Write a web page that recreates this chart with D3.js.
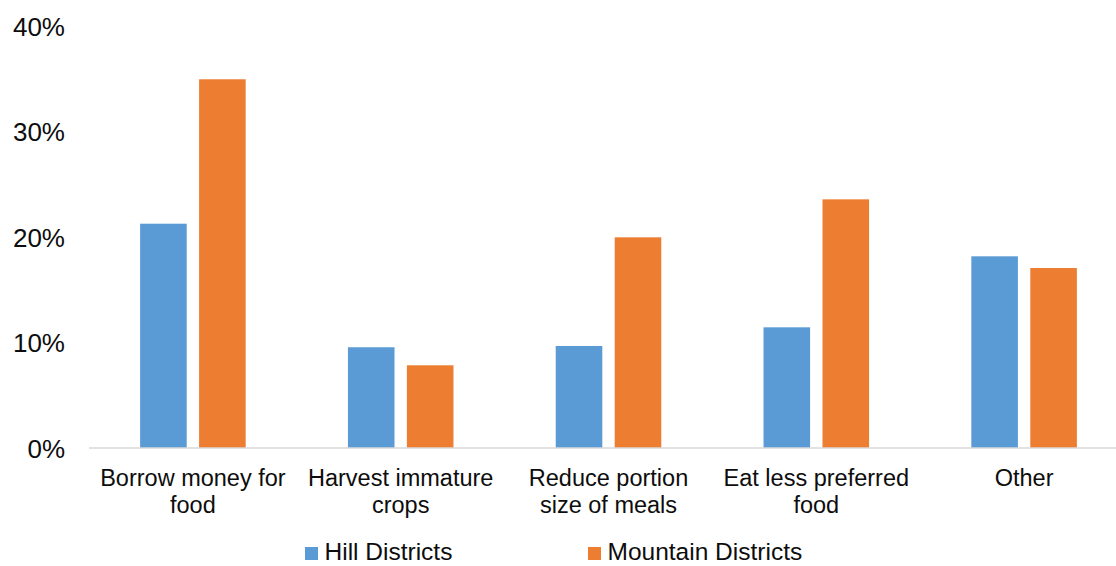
<!DOCTYPE html>
<html>
<head>
<meta charset="utf-8">
<script src="https://cdn.jsdelivr.net/npm/d3@7"></script>
<style>
  html, body { margin: 0; padding: 0; background: #fff; }
  svg { display: block; font-family: "Liberation Sans", Arial, sans-serif; }
</style>
</head>
<body>
<svg id="chart" width="1116" height="566"></svg>
<script>
const categories = [
  ["Borrow money for", "food"],
  ["Harvest immature", "crops"],
  ["Reduce portion", "size of meals"],
  ["Eat less preferred", "food"],
  ["Other"]
];
const seriesNames = ["Hill Districts", "Mountain Districts"];
const hillValues = [0.2126, 0.0955, 0.0967, 0.1144, 0.1817];
const mountainValues = [0.3495, 0.0784, 0.1997, 0.2357, 0.1706];
const yTicks = [0, 0.1, 0.2, 0.3, 0.4];
const colors = ["#5B9BD5", "#ED7D31"];

const svg = d3.select("#chart");
const catKeys = categories.map(c => c.join(" "));
const seriesValues = [hillValues, mountainValues];

const x0 = d3.scaleBand().domain(catKeys).range([89, 1128]).paddingInner(0).paddingOuter(0);
const bw = x0.bandwidth();
const x1 = d3.scaleBand().domain(seriesNames).range([bw * 0.246, bw * 0.754]).paddingInner(0.21).paddingOuter(0);
const y = d3.scaleLinear().domain([0, 0.4]).range([448, 26]);

// y axis labels
const yAxis = d3.axisLeft(y).tickValues(yTicks).tickSize(0).tickPadding(0)
  .tickFormat(d3.format(".0%"));
const gy = svg.append("g").attr("transform", "translate(65,0)").call(yAxis);
gy.select(".domain").remove();
gy.selectAll("text")
  .attr("font-size", 26)
  .attr("font-family", "Liberation Sans, Arial, sans-serif")
  .attr("fill", "#0d0d0d")
  .attr("dy", "0.36em");

// bars
const groups = svg.append("g").selectAll("g")
  .data(catKeys)
  .join("g")
  .attr("transform", d => `translate(${x0(d)},0)`);

groups.selectAll("rect")
  .data((d, i) => seriesNames.map((s, j) => ({ s, v: seriesValues[j][i], j })))
  .join("rect")
  .attr("x", d => x1(d.s))
  .attr("width", x1.bandwidth())
  .attr("y", d => y(d.v))
  .attr("height", d => y(0) - y(d.v))
  .attr("fill", d => colors[d.j]);

// x axis line + labels
const xAxis = d3.axisBottom(x0).tickSize(0).tickPadding(0).tickFormat("");
const gx = svg.append("g").attr("transform", `translate(0,${y(0)})`).call(xAxis);
gx.select(".domain").attr("stroke", "#D9D9D9").attr("stroke-width", 1.5)
  .attr("d", `M89,0H1128`);

gx.selectAll(".tick").each(function(d, i) {
  const t = d3.select(this).append("text")
    .attr("text-anchor", "middle")
    .attr("font-size", 23.5)
    .attr("font-family", "Liberation Sans, Arial, sans-serif")
    .attr("fill", "#0d0d0d");
  categories[i].forEach((line, k) => {
    t.append("tspan").attr("x", 0).attr("y", 38 + k * 26.5).text(line);
  });
});

// legend
const legendItems = [
  { name: seriesNames[0], color: colors[0], x: 305 },
  { name: seriesNames[1], color: colors[1], x: 588 }
];
const lg = svg.append("g").selectAll("g").data(legendItems).join("g")
  .attr("transform", d => `translate(${d.x},0)`);
lg.append("rect").attr("x", 0).attr("y", 547).attr("width", 13).attr("height", 13)
  .attr("fill", d => d.color);
lg.append("text").attr("x", 19.5).attr("y", 560)
  .attr("font-size", 24.5)
  .attr("fill", "#0d0d0d")
  .text(d => d.name);
</script>
</body>
</html>
